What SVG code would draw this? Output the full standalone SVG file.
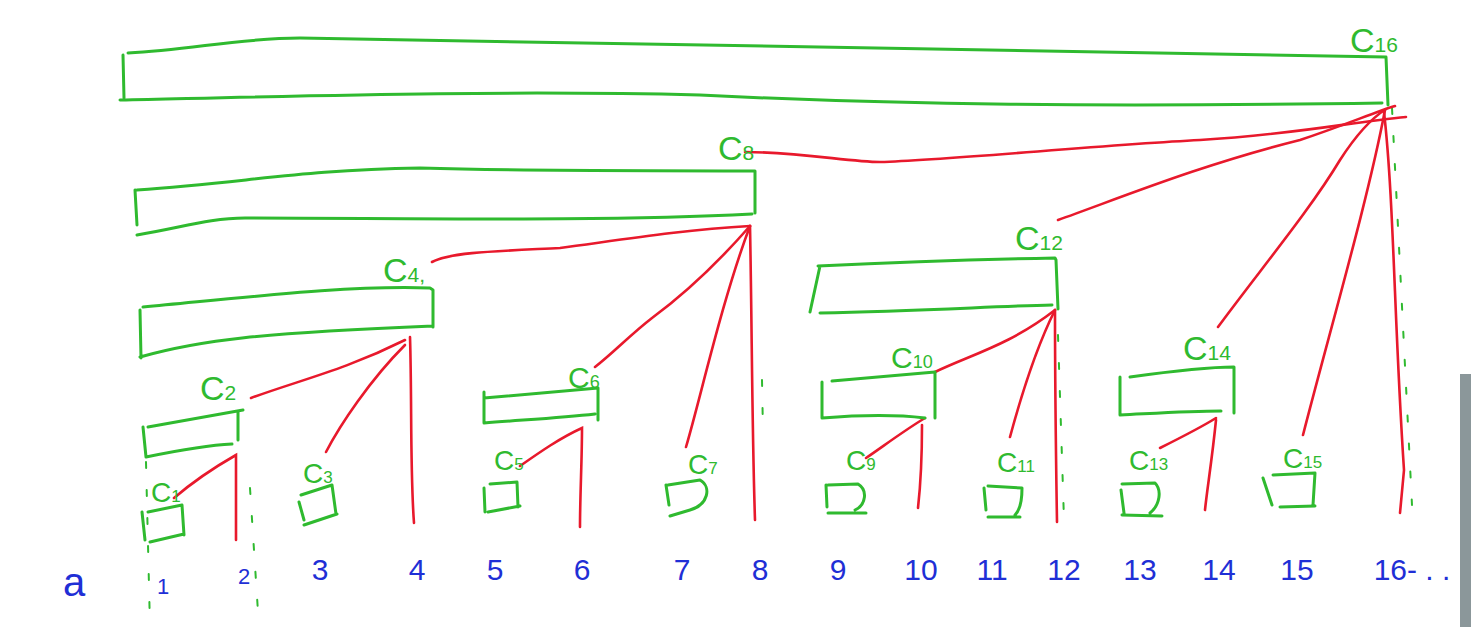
<svg xmlns="http://www.w3.org/2000/svg" width="1471" height="627" viewBox="0 0 1471 627">
<style>
.box{fill:none;stroke:#2fba2f;stroke-width:3;stroke-linecap:round;stroke-linejoin:round}
.lbl{fill:#2fba2f;font-family:"Liberation Sans",Arial,sans-serif;font-size:34px}
.sub{font-size:21px}
.red{fill:none;stroke:#e8192c;stroke-width:2.6;stroke-linecap:round}
.dash{fill:none;stroke:#2fba2f;stroke-width:2;stroke-dasharray:6 22;stroke-linecap:round}
.num{fill:#1f2fd6;font-family:"Liberation Sans",Arial,sans-serif;font-size:30px;text-anchor:middle}
</style>
<rect width="1471" height="627" fill="#ffffff"/>
<rect x="1460" y="374" width="11" height="253" fill="#8b979a"/>

<g id="guides">
<path class="dash" d="M146,462 L150,627"/>
<path class="dash" d="M250,488 L258,612"/>
<path class="dash" d="M1058,335 L1064,520"/>
<path class="dash" d="M1392,108 L1412,505"/>
<path class="dash" d="M762,380 L763,432"/>
</g>

<g id="connectors">
<path class="red" d="M745,152 C800,152 850,162 880,162 C950,160 1100,145 1200,140 C1300,134 1350,122 1406,117"/>
<path class="red" d="M1058,220 C1120,198 1200,165 1300,140 C1345,125 1375,112 1395,106"/>
<path class="red" d="M1218,327 C1260,270 1310,210 1340,160 C1358,132 1372,118 1386,109"/>
<path class="red" d="M1303,435 C1330,330 1368,200 1385,110"/>
<path class="red" d="M1384,112 C1394,200 1394,320 1404,470 L1400,513"/>
<path class="red" d="M432,262 C450,252 500,251 560,248 C620,240 680,230 750,226"/>
<path class="red" d="M595,367 C612,354 630,335 652,318 C690,290 722,258 750,226"/>
<path class="red" d="M686,447 C700,400 722,300 750,226"/>
<path class="red" d="M750,226 C752,330 752,430 755,520"/>
<path class="red" d="M251,398 C300,380 345,370 405,340"/>
<path class="red" d="M326,452 C340,425 370,380 405,345"/>
<path class="red" d="M410,337 C412,400 410,470 414,523"/>
<path class="red" d="M174,498 C195,480 215,467 236,455 L236,540"/>
<path class="red" d="M520,466 C540,452 560,438 582,428 C582,460 580,495 580,527"/>
<path class="red" d="M935,372 C970,355 1010,345 1055,310"/>
<path class="red" d="M1010,437 C1020,400 1035,350 1055,310"/>
<path class="red" d="M1055,310 C1055,400 1056,460 1057,522"/>
<path class="red" d="M866,458 C885,445 905,430 925,418"/>
<path class="red" d="M922,425 C922,460 920,490 918,508"/>
<path class="red" d="M1160,448 C1180,438 1200,428 1216,418"/>
<path class="red" d="M1216,420 C1212,460 1207,490 1205,510"/>
</g>

<g id="c16">
<path class="box" d="M128,53 C190,50 240,38 300,38 C500,40 900,50 1386,57 L1388,105 M120,100 C300,96 500,90 700,95 C900,105 1100,107 1382,103 M123,55 L124,98"/>
<text class="lbl" x="1350" y="52">C<tspan class="sub">16</tspan></text>
</g>
<g id="c8">
<path class="box" d="M137,190 C250,182 300,170 420,168 C550,172 650,170 755,171 L755,213 M137,235 C180,228 210,218 245,218 C400,218 600,222 752,214 M135,190 L137,225"/>
<text class="lbl" x="718" y="160">C<tspan class="sub">8</tspan></text>
</g>
<g id="c4">
<path class="box" d="M143,307 C250,297 350,285 430,288 L433,290 L433,327 M140,357 C200,340 260,333 433,326 M140,310 L141,358"/>
<text class="lbl" x="383" y="282">C<tspan class="sub">4,</tspan></text>
</g>
<g id="c2">
<path class="box" d="M148,427 L243,410 M238,412 L238,440 M146,457 C180,450 210,445 232,444 M143,427 L146,457"/>
<text class="lbl" x="200" y="400">C<tspan class="sub">2</tspan></text>
</g>
<g id="c1">
<path class="box" d="M142,512 L145,540 M148,512 L182,505 L184,535 M150,542 L184,534"/>
<text class="lbl" x="151" y="502" style="font-size:28px">C<tspan class="sub" style="font-size:17px">1</tspan></text>
</g>
<g id="c3">
<path class="box" d="M299,502 L304,520 M301,495 L332,485 L336,514 M304,525 L337,514"/>
<text class="lbl" x="303" y="483" style="font-size:28px">C<tspan class="sub" style="font-size:17px">3</tspan></text>
</g>
<g id="c5">
<path class="box" d="M484,488 L485,512 M490,484 L517,482 L518,507 M488,512 L520,506"/>
<text class="lbl" x="494" y="470" style="font-size:28px">C<tspan class="sub" style="font-size:17px">5</tspan></text>
</g>
<g id="c6">
<path class="box" d="M484,398 L598,388 L598,420 M484,423 C520,420 560,418 595,414 M484,392 L484,423"/>
<text class="lbl" x="568" y="388" style="font-size:30px">C<tspan class="sub" style="font-size:18px">6</tspan></text>
</g>
<g id="c7">
<path class="box" d="M666,485 L669,505 M668,485 L700,480 C712,487 708,505 690,510 L670,516"/>
<text class="lbl" x="688" y="474" style="font-size:28px">C<tspan class="sub" style="font-size:17px">7</tspan></text>
</g>
<g id="c9">
<path class="box" d="M826,485 L827,507 M828,485 L858,484 C868,490 866,505 855,510 M828,513 L866,513"/>
<text class="lbl" x="846" y="470" style="font-size:28px">C<tspan class="sub" style="font-size:17px">9</tspan></text>
</g>
<g id="c10">
<path class="box" d="M822,382 L822,418 M832,381 L935,372 L935,418 M822,418 C860,415 900,415 925,418"/>
<text class="lbl" x="891" y="368" style="font-size:30px">C<tspan class="sub" style="font-size:18px">10</tspan></text>
</g>
<g id="c11">
<path class="box" d="M984,488 L986,510 M988,486 L1022,488 C1022,500 1020,510 1015,515 M988,517 L1020,517"/>
<text class="lbl" x="997" y="472" style="font-size:28px">C<tspan class="sub" style="font-size:17px">11</tspan></text>
</g>
<g id="c12">
<path class="box" d="M818,266 C900,262 1000,259 1055,258 L1056,260 L1058,309 M820,313 C920,311 1000,306 1052,305 M820,266 L810,312"/>
<text class="lbl" x="1015" y="250">C<tspan class="sub">12</tspan></text>
</g>
<g id="c13">
<path class="box" d="M1121,490 L1124,513 M1122,484 L1155,483 C1162,490 1160,505 1150,513 M1122,515 L1162,516"/>
<text class="lbl" x="1129" y="470" style="font-size:28px">C<tspan class="sub" style="font-size:17px">13</tspan></text>
</g>
<g id="c14">
<path class="box" d="M1120,377 L1120,415 M1130,377 C1180,370 1210,367 1234,367 L1234,413 M1120,415 C1160,413 1190,411 1221,411"/>
<text class="lbl" x="1183" y="360">C<tspan class="sub">14</tspan></text>
</g>
<g id="c15">
<path class="box" d="M1263,478 L1272,505 M1273,475 L1315,473 L1313,505 M1280,507 L1315,506"/>
<text class="lbl" x="1283" y="468" style="font-size:28px">C<tspan class="sub" style="font-size:17px">15</tspan></text>
</g>

<g id="array">
<text class="num" x="74" y="596" style="font-size:40px">a</text>
<text class="num" x="163" y="594" style="font-size:22px">1</text>
<text class="num" x="244" y="584" style="font-size:22px">2</text>
<text class="num" x="320" y="580">3</text>
<text class="num" x="417" y="580">4</text>
<text class="num" x="495" y="580">5</text>
<text class="num" x="582" y="580">6</text>
<text class="num" x="682" y="580">7</text>
<text class="num" x="760" y="580">8</text>
<text class="num" x="838" y="580">9</text>
<text class="num" x="921" y="580">10</text>
<text class="num" x="992" y="580">11</text>
<text class="num" x="1064" y="580">12</text>
<text class="num" x="1140" y="580">13</text>
<text class="num" x="1219" y="580">14</text>
<text class="num" x="1297" y="580">15</text>
<text class="num" x="1412" y="580">16- . .</text>
</g>
</svg>
